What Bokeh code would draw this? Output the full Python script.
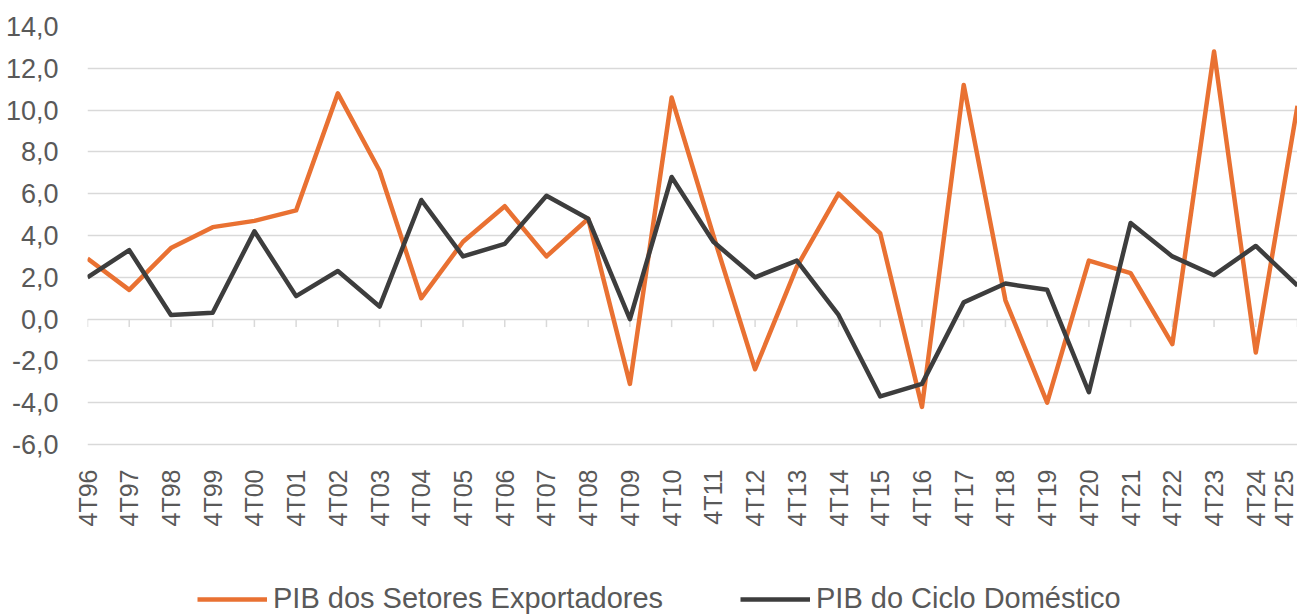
from bokeh.plotting import figure
from bokeh.models import (Range1d, FixedTicker, Legend, LegendItem, ColumnDataSource)
from bokeh.embed import file_html
from bokeh.resources import INLINE
from math import pi

categories = ["4T96", "4T97", "4T98", "4T99", "4T00", "4T01", "4T02", "4T03", "4T04", "4T05",
              "4T06", "4T07", "4T08", "4T09", "4T10", "4T11", "4T12", "4T13", "4T14", "4T15",
              "4T16", "4T17", "4T18", "4T19", "4T20", "4T21", "4T22", "4T23", "4T24", "4T25"]

pib_exportadores = [2.9, 1.4, 3.4, 4.4, 4.7, 5.2, 10.8, 7.1, 1.0, 3.7,
                    5.4, 3.0, 4.8, -3.1, 10.6, 4.0, -2.4, 2.5, 6.0, 4.1,
                    -4.2, 11.2, 0.9, -4.0, 2.8, 2.2, -1.2, 12.8, -1.6, 10.2]

pib_domestico = [2.0, 3.3, 0.2, 0.3, 4.2, 1.1, 2.3, 0.6, 5.7, 3.0,
                 3.6, 5.9, 4.8, 0.0, 6.8, 3.7, 2.0, 2.8, 0.2, -3.7,
                 -3.1, 0.8, 1.7, 1.4, -3.5, 4.6, 3.0, 2.1, 3.5, 1.6]

y_ticks = [-6, -4, -2, 0, 2, 4, 6, 8, 10, 12, 14]
y_tick_labels = ["-6,0", "-4,0", "-2,0", "0,0", "2,0", "4,0", "6,0", "8,0", "10,0", "12,0", "14,0"]

series_names = ["PIB dos Setores Exportadores", "PIB do Ciclo Doméstico"]
series_colors = ["#E97132", "#3D3D3D"]

x_idx = list(range(len(categories)))

# layout (pixels): plot frame spans the whole lower area so the legend is not clipped
FIG_H = 614
TOP = 26
PX_PER_UNIT = 418 / 20          # gridline spacing: 2 units = 41.8 px
frame_h = FIG_H - TOP
y_end = 14
y_start = y_end - frame_h / PX_PER_UNIT
bottom_grid_px = TOP + (y_end - (-6)) * PX_PER_UNIT   # screen y of the -6 gridline

p = figure(width=1297, height=FIG_H, output_backend="svg", toolbar_location=None,
           x_range=Range1d(0, len(categories) - 1), y_range=Range1d(y_start, y_end),
           min_border_left=87, min_border_right=0, min_border_top=TOP, min_border_bottom=0)
p.outline_line_color = None
p.background_fill_color = "white"
p.border_fill_color = "white"

# grid
p.xgrid.grid_line_color = None
p.ygrid.ticker = FixedTicker(ticks=y_ticks)
p.ygrid.grid_line_color = "#D9D9D9"
p.ygrid.grid_line_width = 1.5

# y axis
p.yaxis.ticker = FixedTicker(ticks=y_ticks)
p.yaxis.major_label_overrides = {t: l for t, l in zip(y_ticks, y_tick_labels)}
p.yaxis.axis_line_color = None
p.yaxis.major_tick_line_color = None
p.yaxis.minor_tick_line_color = None
p.yaxis.major_label_standoff = 23
p.yaxis.major_label_text_font = "Liberation Sans"
p.yaxis.major_label_text_font_size = "27px"
p.yaxis.major_label_text_color = "#595959"

# x axis: labels pulled up to sit just under the -6 gridline
p.xaxis.ticker = FixedTicker(ticks=x_idx)
p.xaxis.major_label_overrides = {i: c for i, c in zip(x_idx, categories)}
p.xaxis.major_label_orientation = pi / 2
p.xaxis.axis_line_color = None
p.xaxis.major_tick_line_color = None
p.xaxis.minor_tick_line_color = None
p.xaxis.major_label_standoff = int(round(bottom_grid_px + 19 - FIG_H))
p.xaxis.major_label_text_font = "Liberation Sans"
p.xaxis.major_label_text_font_size = "25px"
p.xaxis.major_label_text_color = "#595959"

# tick marks on the zero line
tick_len = 8 / PX_PER_UNIT
p.segment(x0=x_idx, x1=x_idx, y0=[0] * len(x_idx), y1=[-tick_len] * len(x_idx),
          line_color="#D9D9D9", line_width=1.5)

src = ColumnDataSource(dict(x=x_idx, exp=pib_exportadores, dom=pib_domestico))
r1 = p.line("x", "exp", source=src, line_color=series_colors[0], line_width=4.5, line_join="round")
r2 = p.line("x", "dom", source=src, line_color=series_colors[1], line_width=4.5, line_join="round")

leg_x = [110, 653]
for r, name, lx in zip([r1, r2], series_names, leg_x):
    lg = Legend(items=[LegendItem(label=name, renderers=[r])], location=(lx, -1),
                orientation="horizontal", glyph_width=70, glyph_height=20,
                label_height=20, label_standoff=6, padding=0, margin=0, spacing=0,
                border_line_color=None, background_fill_alpha=0,
                label_text_font="Liberation Sans", label_text_font_size="29px",
                label_text_color="#595959")
    p.add_layout(lg, "center")

open("out.html", "w").write(file_html(p, INLINE))
